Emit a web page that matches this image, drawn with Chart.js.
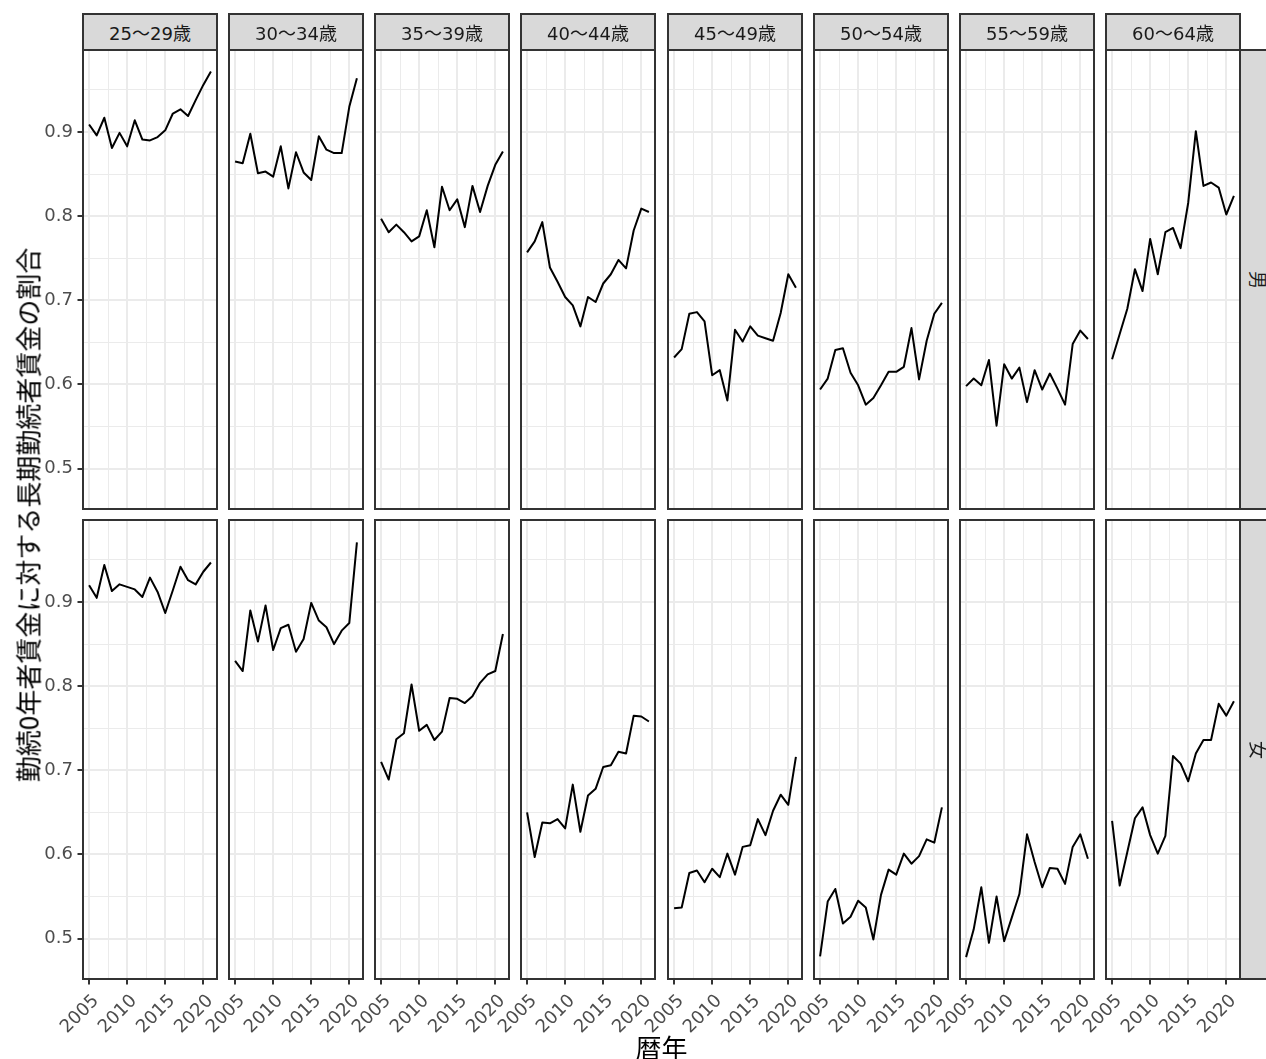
<!DOCTYPE html>
<html>
<head>
<meta charset="utf-8">
<script src="https://cdn.jsdelivr.net/npm/chart.js@4.4.0/dist/chart.umd.min.js"></script>
<style>
  html, body { margin: 0; padding: 0; background: #fff; }
  #page { position: relative; width: 1266px; height: 1059px; overflow: hidden; background: #fff; }
  #page canvas { position: absolute; }
  .strip {
    position: absolute; box-sizing: border-box; background: #D9D9D9;
    border: 2px solid #333333; display: flex; align-items: center; justify-content: center;
    color: #1A1A1A; font: 18px "DejaVu Sans", "Noto Sans CJK JP", sans-serif; white-space: nowrap;
  }
  .strip span.rot { display: inline-block; transform: rotate(90deg); }
  .title { position: absolute; font: 26px "Noto Sans CJK JP", sans-serif; color: #000; white-space: nowrap; }
</style>
</head>
<body>
<div id="page"></div>
<script>
// Survey years on the x axis
const years = [2005, 2006, 2007, 2008, 2009, 2010, 2011, 2012, 2013, 2014, 2015, 2016, 2017, 2018, 2019, 2020, 2021];

// Facet labels
const ageGroups = ['25～29歳', '30～34歳', '35～39歳', '40～44歳', '45～49歳', '50～54歳', '55～59歳', '60～64歳'];
const sexes = ['男', '女'];

// Axis ticks (major labelled, minor grid only)
const yTickValues = [0.5, 0.6, 0.7, 0.8, 0.9];
const yMinorValues = [0.55, 0.65, 0.75, 0.85, 0.95];
const xTickValues = [2005, 2010, 2015, 2020];
const xMinorValues = [2007.5, 2012.5, 2017.5];

// Ratio of long-tenure wages to wages of workers with 0 years of tenure — men
const m25_29 = [0.909, 0.896, 0.917, 0.881, 0.899, 0.883, 0.914, 0.891, 0.890, 0.894, 0.902, 0.922, 0.927, 0.919, 0.938, 0.956, 0.972];
const m30_34 = [0.865, 0.863, 0.898, 0.851, 0.853, 0.847, 0.883, 0.833, 0.876, 0.852, 0.843, 0.895, 0.879, 0.875, 0.875, 0.930, 0.964];
const m35_39 = [0.797, 0.781, 0.790, 0.781, 0.770, 0.776, 0.807, 0.763, 0.835, 0.807, 0.820, 0.787, 0.836, 0.805, 0.836, 0.861, 0.877];
const m40_44 = [0.757, 0.770, 0.793, 0.739, 0.722, 0.704, 0.694, 0.669, 0.704, 0.698, 0.720, 0.731, 0.748, 0.738, 0.783, 0.809, 0.805];
const m45_49 = [0.632, 0.642, 0.684, 0.686, 0.675, 0.611, 0.617, 0.581, 0.665, 0.651, 0.669, 0.658, 0.655, 0.652, 0.685, 0.731, 0.715];
const m50_54 = [0.594, 0.607, 0.641, 0.643, 0.614, 0.599, 0.576, 0.584, 0.599, 0.615, 0.615, 0.621, 0.667, 0.606, 0.652, 0.684, 0.697];
const m55_59 = [0.598, 0.607, 0.599, 0.629, 0.551, 0.624, 0.607, 0.620, 0.579, 0.617, 0.594, 0.613, 0.595, 0.576, 0.648, 0.664, 0.654];
const m60_64 = [0.630, 0.660, 0.690, 0.737, 0.711, 0.773, 0.731, 0.781, 0.786, 0.762, 0.816, 0.901, 0.836, 0.840, 0.834, 0.802, 0.824];

// Same ratio — women
const f25_29 = [0.920, 0.905, 0.944, 0.913, 0.921, 0.918, 0.915, 0.906, 0.929, 0.912, 0.887, 0.914, 0.942, 0.926, 0.921, 0.936, 0.947];
const f30_34 = [0.830, 0.818, 0.890, 0.853, 0.896, 0.843, 0.869, 0.873, 0.841, 0.856, 0.899, 0.878, 0.870, 0.850, 0.866, 0.875, 0.971];
const f35_39 = [0.710, 0.689, 0.737, 0.744, 0.802, 0.747, 0.754, 0.736, 0.746, 0.786, 0.785, 0.780, 0.788, 0.804, 0.814, 0.818, 0.862];
const f40_44 = [0.650, 0.597, 0.638, 0.637, 0.642, 0.631, 0.683, 0.627, 0.670, 0.678, 0.704, 0.706, 0.722, 0.720, 0.765, 0.764, 0.758];
const f45_49 = [0.536, 0.537, 0.578, 0.581, 0.567, 0.583, 0.573, 0.601, 0.576, 0.609, 0.611, 0.642, 0.623, 0.652, 0.671, 0.659, 0.716];
const f50_54 = [0.479, 0.544, 0.559, 0.518, 0.526, 0.545, 0.537, 0.499, 0.552, 0.582, 0.576, 0.601, 0.589, 0.598, 0.618, 0.614, 0.656];
const f55_59 = [0.478, 0.511, 0.561, 0.495, 0.550, 0.497, 0.525, 0.553, 0.624, 0.591, 0.561, 0.584, 0.583, 0.565, 0.609, 0.624, 0.595];
const f60_64 = [0.640, 0.563, 0.603, 0.643, 0.656, 0.623, 0.601, 0.622, 0.717, 0.708, 0.687, 0.720, 0.736, 0.736, 0.779, 0.765, 0.782];

const maleSeries = [m25_29, m30_34, m35_39, m40_44, m45_49, m50_54, m55_59, m60_64];
const femaleSeries = [f25_29, f30_34, f35_39, f40_44, f45_49, f50_54, f55_59, f60_64];
const seriesByRow = [maleSeries, femaleSeries];

// ---- layout of the facet grid ----
const page = document.getElementById('page');
const PANEL_W = 134, PANEL_H = 459, PAD = 4;
const ROW_TOPS = [50, 520];
const COL_LEFTS = ageGroups.map((_, i) => Math.round(83.3 + i * 146.06));
const Y_AXIS_W = 40, X_AXIS_H = 60, LABEL_OVERHANG = 40;
const X_RANGE = [2004.2, 2021.8];
const Y_RANGE = [0.452, 0.9975];
const TICK_FONT = { size: 18, family: '"DejaVu Sans", sans-serif' };

const near = (a, b) => Math.abs(a - b) < 1e-6;
const isIn = (list, v) => list.some(t => near(t, v));

// fixed axis box: no label overhang pushing the plot area around
function fixBox(s, w, h) {
  if (w !== null) s.width = w;
  if (h !== null) s.height = h;
  s.paddingLeft = 0; s.paddingRight = 0; s.paddingTop = 0; s.paddingBottom = 0;
}

// panel border drawn on top of the data
const panelBorder = {
  id: 'panelBorder',
  afterDraw(chart) {
    const { ctx, chartArea: a } = chart;
    ctx.save();
    ctx.strokeStyle = '#333333';
    ctx.lineWidth = 2;
    ctx.strokeRect(a.left, a.top, a.right - a.left, a.bottom - a.top);
    ctx.restore();
  }
};

function makePanel(row, col) {
  const L = col === 0 ? Y_AXIS_W : 0;
  const B = row === seriesByRow.length - 1 ? X_AXIS_H : 0;
  // room on the left for the rotated first year label
  const extra = (B > 0 && L === 0) ? LABEL_OVERHANG : 0;
  const cv = document.createElement('canvas');
  const w = PANEL_W + L + extra + 2 * PAD, h = PANEL_H + B + 2 * PAD;
  cv.width = w; cv.height = h;
  cv.style.width = w + 'px'; cv.style.height = h + 'px';
  cv.style.left = (COL_LEFTS[col] - L - extra - PAD) + 'px';
  cv.style.top = (ROW_TOPS[row] - PAD) + 'px';
  page.appendChild(cv);

  const vals = seriesByRow[row][col];
  const showX = B > 0, showY = L > 0;
  const xGrid = [...xTickValues, ...xMinorValues].sort((a, b) => a - b);
  const yGrid = [...yTickValues, ...yMinorValues].sort((a, b) => a - b);

  new Chart(cv, {
    type: 'line',
    data: {
      datasets: [{
        data: years.map((yr, i) => ({ x: yr, y: vals[i] })),
        borderColor: '#000000',
        borderWidth: 2,
        pointRadius: 0,
        tension: 0,
        fill: false,
        borderJoinStyle: 'round'
      }]
    },
    options: {
      responsive: false,
      animation: false,
      devicePixelRatio: 1,
      events: [],
      layout: { padding: { left: PAD + extra, right: PAD, top: PAD, bottom: PAD } },
      plugins: { legend: { display: false }, tooltip: { enabled: false } },
      scales: {
        x: {
          type: 'linear',
          bounds: 'data',
          min: X_RANGE[0], max: X_RANGE[1],
          afterBuildTicks: s => { s.ticks = xGrid.map(v => ({ value: v })); },
          afterFit: s => fixBox(s, null, B),
          border: { display: false },
          grid: {
            color: '#EBEBEB',
            lineWidth: c => (c.tick && isIn(xTickValues, c.tick.value)) ? 2 : 1,
            drawTicks: showX,
            tickLength: 5.5,
            tickWidth: 2,
            tickColor: c => (c.tick && isIn(xTickValues, c.tick.value)) ? '#333333' : 'rgba(0,0,0,0)'
          },
          ticks: {
            display: showX,
            autoSkip: false,
            minRotation: 45, maxRotation: 45,
            padding: 6,
            labelOffset: 7,
            color: '#4D4D4D',
            font: TICK_FONT,
            callback: v => isIn(xTickValues, v) ? String(v) : ''
          }
        },
        y: {
          type: 'linear',
          bounds: 'data',
          min: Y_RANGE[0], max: Y_RANGE[1],
          afterBuildTicks: s => { s.ticks = yGrid.map(v => ({ value: v })); },
          afterFit: s => fixBox(s, L, null),
          border: { display: false },
          grid: {
            color: '#EBEBEB',
            lineWidth: c => (c.tick && isIn(yTickValues, c.tick.value)) ? 2 : 1,
            drawTicks: showY,
            tickLength: 5.5,
            tickWidth: 2,
            tickColor: c => (c.tick && isIn(yTickValues, c.tick.value)) ? '#333333' : 'rgba(0,0,0,0)'
          },
          ticks: {
            display: showY,
            autoSkip: false,
            padding: 4.5,
            color: '#4D4D4D',
            font: TICK_FONT,
            callback: v => isIn(yTickValues, v) ? v.toFixed(1) : ''
          }
        }
      }
    },
    plugins: [panelBorder]
  });
}

seriesByRow.forEach((_, r) => ageGroups.forEach((_, c) => makePanel(r, c)));

// facet strips along the top (age groups)
ageGroups.forEach((g, c) => {
  const d = document.createElement('div');
  d.className = 'strip';
  d.style.left = (COL_LEFTS[c] - 1) + 'px';
  d.style.top = '13px';
  d.style.width = (PANEL_W + 2) + 'px';
  d.style.height = '38px';
  d.textContent = g;
  page.appendChild(d);
});

// facet strips on the right (sex)
sexes.forEach((s, r) => {
  const d = document.createElement('div');
  d.className = 'strip';
  d.style.left = (COL_LEFTS[COL_LEFTS.length - 1] + PANEL_W - 1) + 'px';
  d.style.top = (ROW_TOPS[r] - 1) + 'px';
  d.style.width = '40px';
  d.style.height = (PANEL_H + 2) + 'px';
  const sp = document.createElement('span');
  sp.className = 'rot';
  sp.textContent = s;
  d.appendChild(sp);
  page.appendChild(d);
});

// axis titles
const yTitle = document.createElement('div');
yTitle.className = 'title';
yTitle.textContent = '勤続0年者賃金に対する長期勤続者賃金の割合';
yTitle.style.left = '26.5px';
yTitle.style.top = ((ROW_TOPS[0] + ROW_TOPS[1] + PANEL_H) / 2) + 'px';
yTitle.style.transform = 'translate(-50%, -50%) rotate(-90deg)';
page.appendChild(yTitle);

const xTitle = document.createElement('div');
xTitle.className = 'title';
xTitle.textContent = '暦年';
xTitle.style.left = ((COL_LEFTS[0] + COL_LEFTS[COL_LEFTS.length - 1] + PANEL_W) / 2) + 'px';
xTitle.style.top = '1046px';
xTitle.style.transform = 'translate(-50%, -50%)';
page.appendChild(xTitle);
</script>
</body>
</html>
